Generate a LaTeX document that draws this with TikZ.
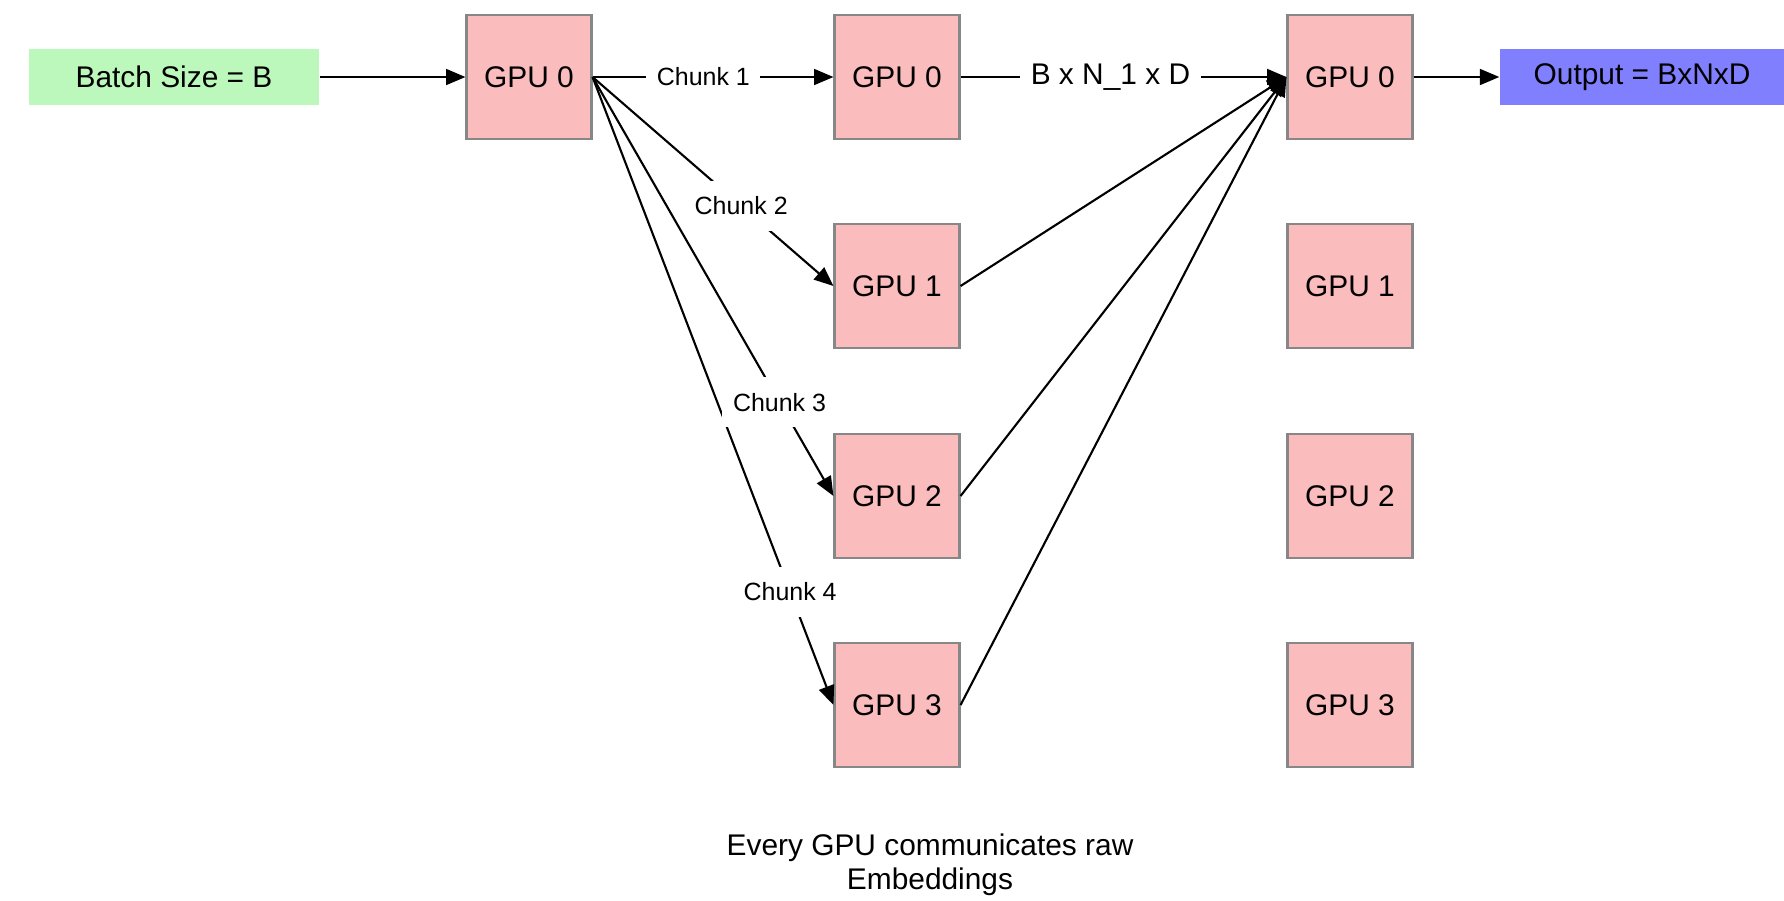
\documentclass[tikz,border=0pt]{standalone}
\usepackage{fontspec}
\setmainfont{Liberation Sans}
\usetikzlibrary{arrows.meta}
\definecolor{gpupink}{RGB}{250,188,188}
\definecolor{gpuedge}{RGB}{135,135,135}
\definecolor{batchgreen}{RGB}{188,248,188}
\definecolor{outblue}{RGB}{128,128,255}

\begin{document}
\begin{tikzpicture}[
  gpunode/.style={rectangle, fill=gpupink, draw=gpuedge, line width=0.6pt,
    minimum width=1.25cm, minimum height=1.24cm, inner sep=0pt,
    font=\fontsize{8.5}{10}\selectfont},
  iobox/.style={rectangle, minimum height=0.56cm, inner sep=0pt,
    font=\fontsize{8.5}{10}\selectfont},
  chunklbl/.style={fill=white, inner xsep=3pt, inner ysep=4.5pt,
    font=\fontsize{7.1}{8}\selectfont},
  arr/.style={-{Triangle[length=5.5pt,width=4.5pt]}, line width=0.6pt}
]
\useasboundingbox (0,0) rectangle (17.84,-9);

% entrada e saida
\node[iobox, fill=batchgreen, minimum width=2.9cm] (batch) at (1.74,-0.77) {Batch Size = B};
\node[iobox, fill=outblue, minimum width=2.84cm] (output) at (16.42,-0.77) {Output = BxNxD};

% gpu que divide o lote
\node[gpunode] (split) at (5.29,-0.77) {GPU 0};

% gpus que recebem os pedacos
\node[gpunode] (emb0) at (8.97,-0.77) {GPU 0};
\node[gpunode] (emb1) at (8.97,-2.86) {GPU 1};
\node[gpunode] (emb2) at (8.97,-4.96) {GPU 2};
\node[gpunode] (emb3) at (8.97,-7.05) {GPU 3};

% gpus que juntam o resultado
\node[gpunode] (gath0) at (13.50,-0.77) {GPU 0};
\node[gpunode] (gath1) at (13.50,-2.86) {GPU 1};
\node[gpunode] (gath2) at (13.50,-4.96) {GPU 2};
\node[gpunode] (gath3) at (13.50,-7.05) {GPU 3};

% legenda
\node[align=center, font=\fontsize{8.5}{9.8}\selectfont] (caption) at (9.30,-8.65)
  {Every GPU communicates raw\\Embeddings};

% envio dos pedacos
\draw[arr] (batch) -- (split);
\draw[arr] (split.east) -- node[chunklbl, inner ysep=2pt, pos=0.46] {Chunk 1} (emb0.west);
\draw[arr] (split.east) -- node[chunklbl, pos=0.82] {Chunk 4} (emb3.west);
\draw[arr] (split.east) -- node[chunklbl, pos=0.776] {Chunk 3} (emb2.west);
\draw[arr] (split.east) -- node[chunklbl, pos=0.617] {Chunk 2} (emb1.west);

% retorno dos embeddings
\draw[arr] (emb0.east) -- node[chunklbl, inner ysep=2pt, pos=0.46,
  font=\fontsize{8.5}{10}\selectfont] {B x N\_1 x D} (gath0.west);
\draw[arr] (emb1.east) -- (gath0.west);
\draw[arr] (emb2.east) -- (gath0.west);
\draw[arr] (emb3.east) -- (gath0.west);
\draw[arr] (gath0) -- (output);

\end{tikzpicture}
\end{document}
